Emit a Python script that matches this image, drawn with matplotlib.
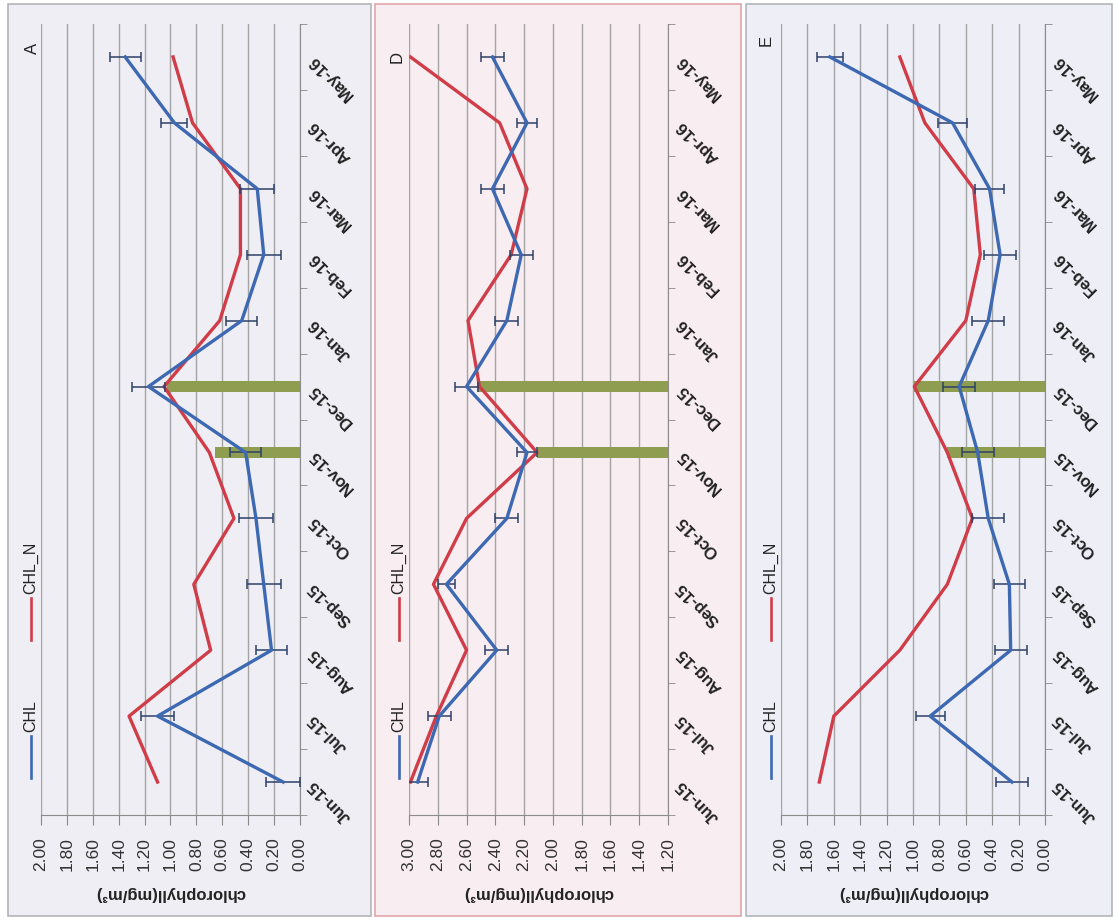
import numpy as np
import matplotlib
matplotlib.use('Agg')
import matplotlib.pyplot as plt
from matplotlib.patches import Rectangle
from matplotlib.lines import Line2D

plt.rcParams['font.family'] = ['Liberation Sans', 'DejaVu Sans']

# data
months = ['Jun-15', 'Jul-15', 'Aug-15', 'Sep-15', 'Oct-15', 'Nov-15',
          'Dec-15', 'Jan-16', 'Feb-16', 'Mar-16', 'Apr-16', 'May-16']

chl_a = [0.13, 1.10, 0.22, 0.28, 0.34, 0.42, 1.17, 0.45, 0.28, 0.33, 0.97, 1.35]
err_a = [0.13, 0.13, 0.12, 0.13, 0.13, 0.12, 0.13, 0.12, 0.13, 0.13, 0.10, 0.12]
chln_a = [1.10, 1.32, 0.69, 0.82, 0.51, 0.70, 1.05, 0.62, 0.46, 0.46, 0.83, 0.98]

chl_d = [2.94, 2.79, 2.39, 2.74, 2.32, 2.18, 2.60, 2.32, 2.22, 2.42, 2.18, 2.42]
err_d = [0.07, 0.08, 0.08, 0.06, 0.08, 0.07, 0.08, 0.08, 0.08, 0.08, 0.07, 0.08]
chln_d = [2.99, 2.81, 2.60, 2.83, 2.60, 2.11, 2.51, 2.59, 2.29, 2.18, 2.37, 2.99]

chl_e = [0.25, 0.87, 0.26, 0.27, 0.43, 0.51, 0.65, 0.43, 0.34, 0.42, 0.70, 1.63]
err_e = [0.12, 0.11, 0.12, 0.12, 0.12, 0.12, 0.12, 0.12, 0.12, 0.11, 0.11, 0.10]
chln_e = [1.71, 1.60, 1.10, 0.74, 0.55, 0.74, 0.99, 0.60, 0.49, 0.54, 0.91, 1.10]

event_months = ['Nov-15', 'Dec-15']
event_a = [0.66, 1.03]
event_d = [2.11, 2.53]
event_e = [0.74, 0.99]

ticks_a = [0.0, 0.2, 0.4, 0.6, 0.8, 1.0, 1.2, 1.4, 1.6, 1.8, 2.0]
ticks_d = [1.2, 1.4, 1.6, 1.8, 2.0, 2.2, 2.4, 2.6, 2.8, 3.0]
ticks_e = ticks_a

BLUE = '#3d68b2'
RED = '#d03c47'
GREEN = '#8e9d4f'
GRID = '#a4a4a4'

W, H = 1117, 923
fig = plt.figure(figsize=(W / 100, H / 100), dpi=100)


def rect(x0, y0, x1, y1):
    return [x0 / W, 1 - y1 / H, (x1 - x0) / W, (y1 - y0) / H]


def panel(box, face, edge, left, right, chl, err, chln, events, ticks, letter, letter_xy):
    bx0, bx1 = box
    fig.patches.append(Rectangle((bx0 / W, 1 - 916 / H), (bx1 - bx0) / W, 912 / H,
                                 transform=fig.transFigure, facecolor=face,
                                 edgecolor=edge, lw=1.2, zorder=-5))
    ax = fig.add_axes(rect(left, 24, right, 815))
    ax.set_facecolor('none')
    y = np.arange(len(months))
    ev_y = [months.index(m) for m in event_months]
    base = ticks[0]
    ax.barh(ev_y, np.array(events) - base, left=base, height=0.17,
            color=GREEN, zorder=2)
    ax.plot(chln, y, color=RED, lw=2.4, zorder=3)
    ax.errorbar(chl, y, xerr=err, color=BLUE, lw=2.4, ecolor='#2e4168',
                elinewidth=1.1, capsize=3.5, capthick=1.1, zorder=4)
    ax.set_xlim(ticks[-1], ticks[0])
    ax.set_ylim(-0.5, len(months) - 0.5)

    ax.set_xticks(ticks)
    ax.set_xticklabels(['%.2f' % t for t in ticks], rotation=90, fontsize=12.5,
                       color='#333333')
    ax.tick_params(axis='x', length=7, color='#888888', pad=9)
    ax.xaxis.grid(True, color=GRID, lw=1)
    ax.set_axisbelow(True)

    ax.yaxis.tick_right()
    ax.set_yticks(y)
    ax.set_yticklabels(months, fontsize=12, color='#222222', fontweight='bold')
    ax.set_yticks(np.arange(len(months) + 1) - 0.5, minor=True)
    ax.tick_params(axis='y', which='major', length=0, pad=8)
    ax.tick_params(axis='y', which='minor', length=5, color='#888888')
    for lab in ax.get_yticklabels():
        lab.set_rotation(135)
        lab.set_ha('right')
        lab.set_va('center')
        lab.set_rotation_mode('anchor')

    for s in ['top', 'left']:
        ax.spines[s].set_visible(False)
    for s in ['right', 'bottom']:
        ax.spines[s].set_color('#8c8c8c')

    ax.set_xlabel('chlorophyll(mg/m³)', rotation=180, fontsize=12,
                  fontweight='bold', color='#222222', va='center')
    ax.xaxis.set_label_coords(0.5, (815 - 893) / 791)

    fig.text(letter_xy[0] / W, 1 - letter_xy[1] / H, letter, rotation=90,
             ha='center', va='center', fontsize=12, color='#222222')

    # legend (drawn turned, like the rest of the figure)
    lx = left - 10
    for col, name, y0, y1 in [(BLUE, 'CHL', 736, 778), (RED, 'CHL_N', 598, 640)]:
        fig.add_artist(Line2D([lx / W, lx / W], [1 - y1 / H, 1 - y0 / H],
                              transform=fig.transFigure, color=col, lw=1.9))
        fig.text(lx / W, 1 - (y0 - 4) / H, name, rotation=90, rotation_mode='anchor',
                 ha='left', va='center', fontsize=11.5, color='#222222')
    return ax


panel((8, 371), '#eeeef4', '#b4b4b8', 41, 300, chl_a, err_a, chln_a, event_a,
      ticks_a, 'A', (32, 48))
panel((375, 741), '#f8edf0', '#e3a3ab', 409, 668, chl_d, err_d, chln_d, event_d,
      ticks_d, 'D', (397, 57))
panel((746, 1112), '#eeeef7', '#b4b4bc', 781, 1045, chl_e, err_e, chln_e, event_e,
      ticks_e, 'E', (766, 40))

fig.savefig('out.png', dpi=100)
